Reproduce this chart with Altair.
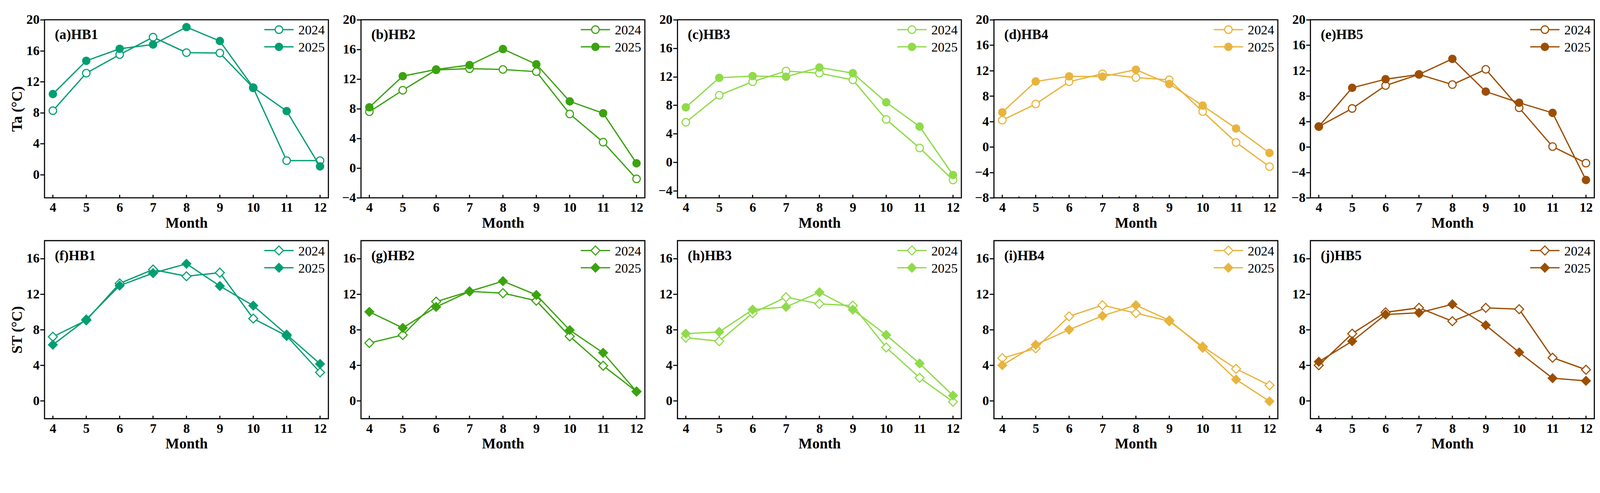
import altair as alt
import pandas as pd

FONT = "Liberation Serif"

months = [4, 5, 6, 7, 8, 9, 10, 11, 12]
minor_months = [4.5, 5.5, 6.5, 7.5, 8.5, 9.5, 10.5, 11.5]
sites = ["HB1", "HB2", "HB3", "HB4", "HB5"]
years = ["2024", "2025"]
ta_letters = ["(a)", "(b)", "(c)", "(d)", "(e)"]
st_letters = ["(f)", "(g)", "(h)", "(i)", "(j)"]
colors = ["#009E73", "#3BA30F", "#8FDB4A", "#E8B43E", "#9C4F03"]

# Air temperature (Ta, degC)
ta_hb1_2024 = [8.25, 13.1, 15.5, 17.75, 15.75, 15.7, 11.2, 1.8, 1.8]
ta_hb1_2025 = [10.4, 14.7, 16.25, 16.8, 19.05, 17.25, 11.25, 8.2, 1.05]
ta_hb2_2024 = [7.6, 10.5, 13.25, 13.4, 13.3, 13.0, 7.3, 3.5, -1.45]
ta_hb2_2025 = [8.2, 12.4, 13.3, 13.9, 16.05, 14.0, 9.0, 7.4, 0.65]
ta_hb3_2024 = [5.6, 9.4, 11.3, 12.8, 12.5, 11.55, 6.0, 2.0, -2.5]
ta_hb3_2025 = [7.7, 11.85, 12.1, 12.0, 13.3, 12.5, 8.4, 5.0, -1.8]
ta_hb4_2024 = [4.2, 6.75, 10.25, 11.5, 10.9, 10.55, 5.55, 0.7, -3.1]
ta_hb4_2025 = [5.45, 10.3, 11.1, 11.05, 12.15, 9.9, 6.5, 2.9, -0.95]
ta_hb5_2024 = [3.2, 6.05, 9.65, 11.4, 9.8, 12.2, 6.15, 0.05, -2.55]
ta_hb5_2025 = [3.2, 9.3, 10.65, 11.4, 13.85, 8.7, 6.95, 5.35, -5.2]

# Soil temperature (ST, degC)
st_hb1_2024 = [7.2, 9.05, 13.2, 14.75, 14.0, 14.4, 9.25, 7.3, 3.2]
st_hb1_2025 = [6.3, 9.15, 12.95, 14.35, 15.4, 12.9, 10.7, 7.45, 4.15]
st_hb2_2024 = [6.5, 7.4, 11.15, 12.3, 12.1, 11.25, 7.25, 3.95, 1.05]
st_hb2_2025 = [10.0, 8.2, 10.55, 12.3, 13.45, 11.9, 7.95, 5.4, 1.05]
st_hb3_2024 = [7.1, 6.7, 9.85, 11.65, 10.9, 10.7, 6.0, 2.6, -0.1]
st_hb3_2025 = [7.55, 7.75, 10.25, 10.55, 12.2, 10.25, 7.4, 4.2, 0.6]
st_hb4_2024 = [4.8, 5.9, 9.5, 10.75, 9.85, 8.95, 6.1, 3.6, 1.75]
st_hb4_2025 = [4.0, 6.3, 8.0, 9.55, 10.75, 9.05, 5.95, 2.4, -0.05]
st_hb5_2024 = [4.0, 7.55, 9.95, 10.45, 8.95, 10.45, 10.3, 4.85, 3.5]
st_hb5_2025 = [4.4, 6.7, 9.7, 9.9, 10.85, 8.5, 5.45, 2.55, 2.25]

ta_series = [(ta_hb1_2024, ta_hb1_2025), (ta_hb2_2024, ta_hb2_2025),
             (ta_hb3_2024, ta_hb3_2025), (ta_hb4_2024, ta_hb4_2025),
             (ta_hb5_2024, ta_hb5_2025)]
st_series = [(st_hb1_2024, st_hb1_2025), (st_hb2_2024, st_hb2_2025),
             (st_hb3_2024, st_hb3_2025), (st_hb4_2024, st_hb4_2025),
             (st_hb5_2024, st_hb5_2025)]

ta_domains = [[-3, 20], [-4, 20], [-5, 20], [-8, 20], [-8, 20]]
ta_ticks = [[0, 4, 8, 12, 16, 20], [-4, 0, 4, 8, 12, 16, 20], [-4, 0, 4, 8, 12, 16, 20],
            [-8, -4, 0, 4, 8, 12, 16, 20], [-8, -4, 0, 4, 8, 12, 16, 20]]
st_domain = [-2, 18]
st_ticks = [0, 4, 8, 12, 16]
minor_on = {("Ta", 3), ("ST", 4)}

W, H = 775, 486


def panel(label, v24, v25, color, ydom, yvals, shape, ytitle, minor):
    open_size = 420 if shape == "circle" else 600
    fill_size = 520 if shape == "circle" else 780
    df = pd.DataFrame({"Month": months * 2, "Value": list(v24) + list(v25),
                       "Year": [years[0]] * 9 + [years[1]] * 9})
    xsc = alt.Scale(domain=[3.75, 12.25], nice=False, zero=False)
    ysc = alt.Scale(domain=ydom, nice=False, zero=False)
    xax = alt.Axis(values=months, title="Month", ticks=False, domain=False, grid=False,
                   labelPadding=10, titlePadding=4, labelFontSize=36, titleFontSize=40,
                   labelFont=FONT, titleFont=FONT, labelFontWeight="bold",
                   titleFontWeight="bold", labelColor="black", titleColor="black",
                   labelFlush=False, labelOverlap=False)
    yargs = dict(values=yvals, ticks=True, tickSize=12, tickWidth=3, tickColor="black",
                 domain=False, grid=False, labelPadding=2, labelFontSize=36,
                 labelFont=FONT, labelFontWeight="bold", labelColor="black",
                 labelFlush=False, labelOverlap=False, titleFontSize=40, titleFont=FONT,
                 titleFontWeight="bold", titleColor="black", titlePadding=4)
    if ytitle:
        yargs["title"] = ytitle
    else:
        yargs["title"] = None
    yax = alt.Axis(**yargs)
    X = alt.X("Month:Q", scale=xsc, axis=xax)
    Y = alt.Y("Value:Q", scale=ysc, axis=yax)

    layers = []
    # inward x ticks
    tdf = pd.DataFrame({"Month": months})
    layers.append(alt.Chart(tdf).mark_rule(color="black", strokeWidth=3).encode(
        x=X, y=alt.value(H), y2=alt.value(H - 8)))
    if minor:
        mdf = pd.DataFrame({"Month": minor_months})
        layers.append(alt.Chart(mdf).mark_rule(color="black", strokeWidth=2.5).encode(
            x=X, y=alt.value(H), y2=alt.value(H - 4)))
    for yr in years:
        sub = df[df["Year"] == yr]
        layers.append(alt.Chart(sub).mark_line(color=color, strokeWidth=3.5).encode(x=X, y=Y))
        if yr == years[0]:
            pt = alt.Chart(sub).mark_point(shape=shape, filled=True, fill="white", stroke=color,
                                           strokeWidth=3, size=open_size, opacity=1)
        else:
            pt = alt.Chart(sub).mark_point(shape=shape, filled=True, color=color,
                                           size=fill_size, opacity=1)
        layers.append(pt.encode(x=X, y=Y))

    # legend (top right, inside)
    for i, yr in enumerate(years):
        ly = 27 + 47 * i
        ldf = pd.DataFrame({"Year": [yr]})
        layers.append(alt.Chart(ldf).mark_rule(color=color, strokeWidth=3.5).encode(
            x=alt.value(W - 175), x2=alt.value(W - 95), y=alt.value(ly)))
        if i == 0:
            lp = alt.Chart(ldf).mark_point(shape=shape, filled=True, fill="white", stroke=color,
                                           strokeWidth=3, size=open_size, opacity=1)
        else:
            lp = alt.Chart(ldf).mark_point(shape=shape, filled=True, color=color,
                                           size=fill_size, opacity=1)
        layers.append(lp.encode(x=alt.value(W - 135), y=alt.value(ly)))
        layers.append(alt.Chart(ldf).mark_text(align="left", baseline="middle", font=FONT,
                                               fontSize=36, color="black").encode(
            x=alt.value(W - 82), y=alt.value(ly + 2), text=alt.Text("Year:N")))

    # panel label
    layers.append(alt.Chart(pd.DataFrame({"Year": [years[0]]})).mark_text(
        align="left", baseline="middle", font=FONT, fontSize=38, fontWeight="bold",
        color="black").encode(x=alt.value(28), y=alt.value(42), text=alt.value(label)))

    return alt.layer(*layers).properties(width=W, height=H)


panels = []
for k in range(5):
    v24, v25 = ta_series[k]
    panels.append(panel(ta_letters[k] + sites[k], v24, v25, colors[k], ta_domains[k],
                        ta_ticks[k], "circle", "Ta (°C)" if k == 0 else "",
                        ("Ta", k) in minor_on))
for k in range(5):
    v24, v25 = st_series[k]
    panels.append(panel(st_letters[k] + sites[k], v24, v25, colors[k], st_domain,
                        st_ticks, "diamond", "ST (°C)" if k == 0 else "",
                        ("ST", k) in minor_on))

chart = alt.concat(*panels, columns=5, spacing={"row": 117, "column": 89},
                   bounds="flush").properties(
    padding={"left": 17, "top": -14, "right": 5, "bottom": 0},
    background="white",
).configure_view(stroke="black", strokeWidth=3)

chart.save("out.html", embed_options={"renderer": "svg", "actions": False})
